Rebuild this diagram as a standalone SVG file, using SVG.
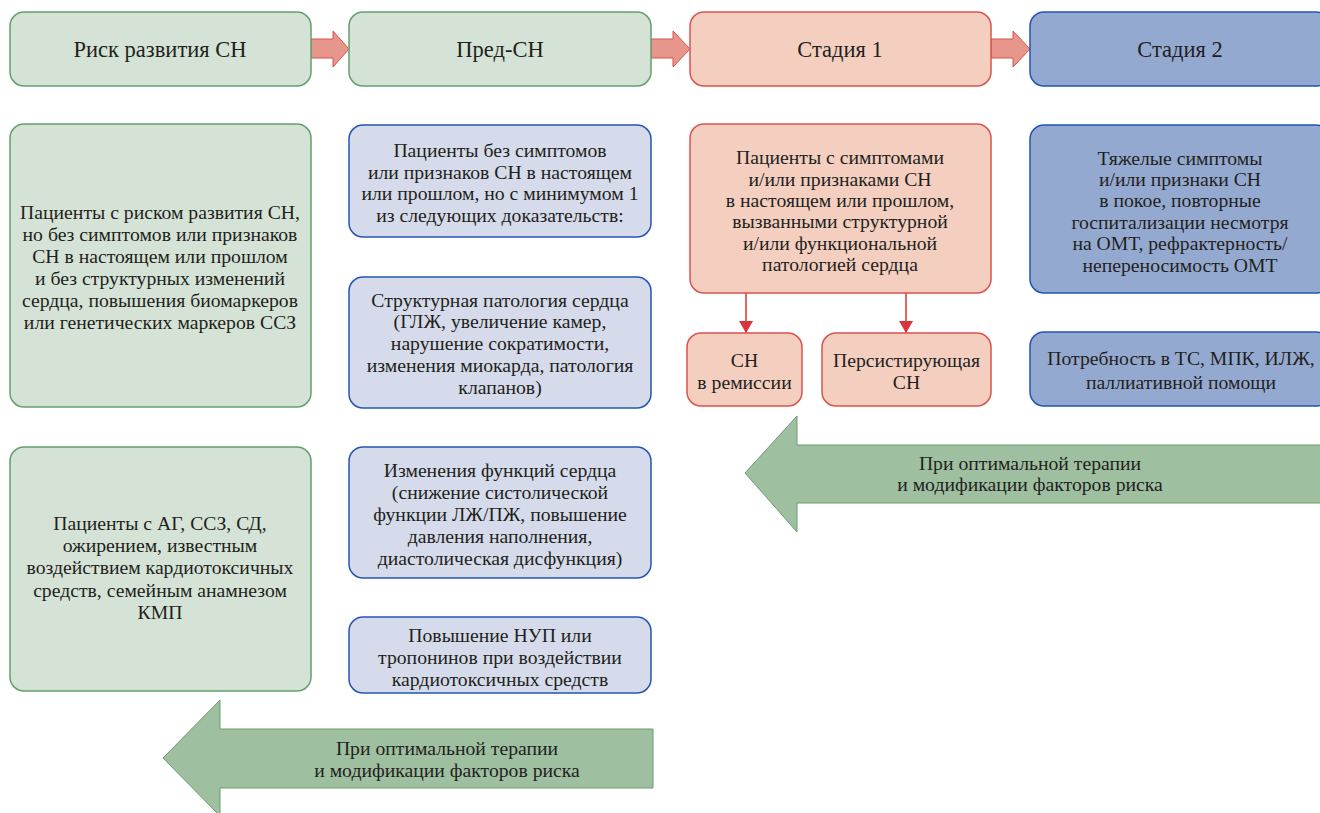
<svg xmlns="http://www.w3.org/2000/svg" width="1320" height="813" viewBox="0 0 1320 813">
<defs>
<style>
text{font-family:"Liberation Serif",serif;fill:#231f20;text-anchor:middle;dominant-baseline:central}
.h{font-size:22.5px}
.t{font-size:19.7px}
.g{fill:#d5e3d6;stroke:#62a06c;stroke-width:1.5}
.r{fill:#f4cfc0;stroke:#d9534f;stroke-width:1.5}
.b{fill:#94a9d0;stroke:#1f55b4;stroke-width:1.5}
.lb{fill:#d5dbea;stroke:#2556b2;stroke-width:1.5}
.fa{fill:#e6968a;stroke:#d9534f;stroke-width:1}
.ga{fill:#9fbfa1;stroke:#6a9e70;stroke-width:1}
.ln{stroke:#d9343a;stroke-width:1.5;fill:none}
</style>
<marker id="ah" viewBox="0 0 12 14" refX="12" refY="7" markerWidth="12" markerHeight="14" markerUnits="userSpaceOnUse" orient="auto">
<path d="M0,0 L12,7 L0,14 Z" fill="#d9343a"/>
</marker>
</defs>
<rect width="1320" height="813" fill="#ffffff"/>

<g id="connectors">
<path class="fa" d="M311,39 H333 V31 L349,49 L333,67 V58 H311 Z"/>
<path class="fa" d="M651,39 H673 V31 L690,49 L673,67 V58 H651 Z"/>
<path class="fa" d="M991,39 H1013 V31 L1030,49 L1013,67 V58 H991 Z"/>
<line class="ln" x1="746" y1="293" x2="746" y2="333" marker-end="url(#ah)"/>
<line class="ln" x1="906" y1="293" x2="906" y2="333" marker-end="url(#ah)"/>
</g>

<g id="h1"><rect class="g" x="10" y="12" width="301" height="74" rx="14"/><text class="h" x="160" y="49">Риск развития СН</text></g>
<g id="h2"><rect class="g" x="349" y="12" width="302" height="74" rx="14"/><text class="h" x="500" y="49">Пред-СН</text></g>
<g id="h3"><rect class="r" x="690" y="12" width="301" height="74" rx="14"/><text class="h" x="840" y="49">Стадия 1</text></g>
<g id="h4"><rect class="b" x="1030" y="12" width="300" height="74" rx="14"/><text class="h" x="1180" y="49">Стадия 2</text></g>

<g id="risk1"><rect class="g" x="10" y="124" width="301" height="283" rx="14"/>
<text class="t"><tspan x="160" y="212">Пациенты с риском развития СН,</tspan><tspan x="160" y="234">но без симптомов или признаков</tspan><tspan x="160" y="256">СН в настоящем или прошлом</tspan><tspan x="160" y="278">и без структурных изменений</tspan><tspan x="160" y="300">сердца, повышения биомаркеров</tspan><tspan x="160" y="322">или генетических маркеров ССЗ</tspan></text></g>

<g id="risk2"><rect class="g" x="10" y="447" width="301" height="244" rx="14"/>
<text class="t"><tspan x="160" y="523">Пациенты с АГ, ССЗ, СД,</tspan><tspan x="160" y="545">ожирением, известным</tspan><tspan x="160" y="567">воздействием кардиотоксичных</tspan><tspan x="160" y="590">средств, семейным анамнезом</tspan><tspan x="160" y="612">КМП</tspan></text></g>

<g id="pre1"><rect class="lb" x="349" y="125" width="302" height="112" rx="14"/>
<text class="t"><tspan x="500" y="150">Пациенты без симптомов</tspan><tspan x="500" y="172">или признаков СН в настоящем</tspan><tspan x="500" y="193">или прошлом, но с минимумом 1</tspan><tspan x="500" y="215">из следующих доказательств:</tspan></text></g>

<g id="pre2"><rect class="lb" x="349" y="277" width="302" height="131" rx="14"/>
<text class="t"><tspan x="500" y="300">Структурная патология сердца</tspan><tspan x="500" y="321">(ГЛЖ, увеличение камер,</tspan><tspan x="500" y="343">нарушение сократимости,</tspan><tspan x="500" y="365">изменения миокарда, патология</tspan><tspan x="500" y="387">клапанов)</tspan></text></g>

<g id="pre3"><rect class="lb" x="349" y="447" width="302" height="131" rx="14"/>
<text class="t"><tspan x="500" y="470">Изменения функций сердца</tspan><tspan x="500" y="492">(снижение систолической</tspan><tspan x="500" y="514">функции ЛЖ/ПЖ, повышение</tspan><tspan x="500" y="536">давления наполнения,</tspan><tspan x="500" y="558">диастолическая дисфункция)</tspan></text></g>

<g id="pre4"><rect class="lb" x="349" y="617" width="302" height="76" rx="14"/>
<text class="t"><tspan x="500" y="635">Повышение НУП или</tspan><tspan x="500" y="657">тропонинов при воздействии</tspan><tspan x="500" y="679">кардиотоксичных средств</tspan></text></g>

<g id="st1"><rect class="r" x="690" y="124" width="301" height="169" rx="14"/>
<text class="t"><tspan x="840" y="157">Пациенты с симптомами</tspan><tspan x="840" y="179">и/или признаками СН</tspan><tspan x="840" y="200">в настоящем или прошлом,</tspan><tspan x="840" y="221">вызванными структурной</tspan><tspan x="840" y="243">и/или функциональной</tspan><tspan x="840" y="264">патологией сердца</tspan></text></g>

<g id="rem"><rect class="r" x="687" y="333" width="115" height="73" rx="14"/>
<text class="t"><tspan x="744.5" y="360">СН</tspan><tspan x="744.5" y="382">в ремиссии</tspan></text></g>

<g id="pers"><rect class="r" x="822" y="333" width="169" height="73" rx="14"/>
<text class="t"><tspan x="906.5" y="360">Персистирующая</tspan><tspan x="906.5" y="382">СН</tspan></text></g>

<g id="st2a"><rect class="b" x="1030" y="125" width="300" height="168" rx="14"/>
<text class="t"><tspan x="1180" y="158">Тяжелые симптомы</tspan><tspan x="1180" y="179">и/или признаки СН</tspan><tspan x="1180" y="200">в покое, повторные</tspan><tspan x="1180" y="222">госпитализации несмотря</tspan><tspan x="1180" y="243">на ОМТ, рефрактерность/</tspan><tspan x="1180" y="265">непереносимость ОМТ</tspan></text></g>

<g id="st2b"><rect class="b" x="1030" y="332" width="300" height="74" rx="14"/>
<text class="t"><tspan x="1181" y="358">Потребность в ТС, МПК, ИЛЖ,</tspan><tspan x="1181" y="382">паллиативной помощи</tspan></text></g>

<g id="back1"><path class="ga" d="M1322,445 H797 V416 L745,473 L797,532 V503 H1322 Z"/>
<text class="t"><tspan x="1030" y="463">При оптимальной терапии</tspan><tspan x="1030" y="484">и модификации факторов риска</tspan></text></g>

<g id="back2"><path class="ga" d="M653,729 H220 V700 L163,758 L220,816 V788 H653 Z"/>
<text class="t"><tspan x="447" y="748">При оптимальной терапии</tspan><tspan x="447" y="770">и модификации факторов риска</tspan></text></g>
</svg>
